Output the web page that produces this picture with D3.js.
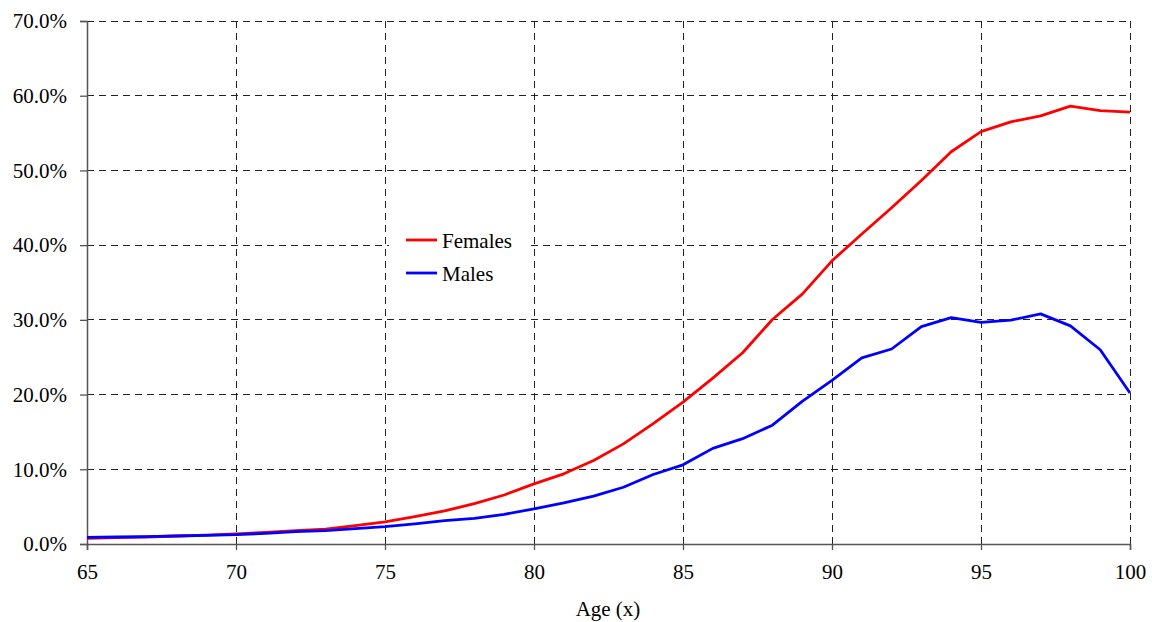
<!DOCTYPE html>
<html>
<head>
<meta charset="utf-8">
<title>Age chart</title>
<script src="https://cdn.jsdelivr.net/npm/d3@7"></script>
<style>
  body { margin: 0; background: #fff; }
  svg text { font-family: "Liberation Serif", "Times New Roman", serif; fill: #000; }
</style>
</head>
<body>
<svg id="chart" width="1152" height="622"></svg>
<script>
// ages 65..100
var ages = d3.range(65, 101);
var females = [0.76, 0.85, 0.94, 1.07, 1.2, 1.34, 1.56, 1.79, 2.0, 2.46, 2.95, 3.66, 4.42, 5.4, 6.56,
  8.05, 9.39, 11.18, 13.4, 16.1, 19.0, 22.2, 25.6, 30.05, 33.45, 37.9, 41.5, 45.0, 48.66, 52.5,
  55.2, 56.5, 57.3, 58.6, 58.0, 57.8];
var males = [0.89, 0.94, 0.98, 1.07, 1.16, 1.25, 1.43, 1.65, 1.79, 2.05, 2.32, 2.68, 3.12, 3.44, 3.97,
  4.7, 5.5, 6.4, 7.6, 9.3, 10.6, 12.8, 14.1, 15.9, 19.1, 21.9, 24.9, 26.1, 29.1, 30.3,
  29.65, 29.96, 30.8, 29.2, 26.0, 20.2];
var xTicks = [65, 70, 75, 80, 85, 90, 95, 100];
var yTicks = [0, 10, 20, 30, 40, 50, 60, 70];
var series = [
  {name: "Females", values: females, color: "#ff0000"},
  {name: "Males", values: males, color: "#0000ff"}
];

var svg = d3.select("#chart");
var plotL = 87, plotR = 1130, plotT = 21, plotB = 544;

var x = d3.scaleLinear().domain([65, 100]).range([plotL, plotR]);
var y = d3.scaleLinear().domain([0, 70]).range([plotB, plotT]);

// grid
var grid = svg.append("g").attr("shape-rendering", "crispEdges");
grid.selectAll("line.h").data(yTicks.slice(1)).enter().append("line")
  .attr("x1", plotL).attr("x2", plotR)
  .attr("y1", d => y(d)).attr("y2", d => y(d))
  .attr("stroke", "#222").attr("stroke-width", 1).attr("stroke-dasharray", "7,5");
grid.selectAll("line.v").data(xTicks.slice(1)).enter().append("line")
  .attr("x1", d => x(d)).attr("x2", d => x(d))
  .attr("y1", plotB).attr("y2", plotT)
  .attr("stroke", "#222").attr("stroke-width", 1).attr("stroke-dasharray", "7,5");

// axes
var xAxis = svg.append("g").attr("transform", "translate(0," + plotB + ")")
  .call(d3.axisBottom(x).tickValues(xTicks).tickSize(6).tickPadding(14).tickFormat(d3.format("d")));
var yAxis = svg.append("g").attr("transform", "translate(" + plotL + ",0)")
  .call(d3.axisLeft(y).tickValues(yTicks).tickSize(7).tickPadding(13).tickFormat(d => d.toFixed(1) + "%"));

[xAxis, yAxis].forEach(function (a) {
  a.attr("font-family", null);
  a.select(".domain").attr("stroke", "#555").attr("stroke-width", 1.5);
  a.selectAll(".tick line").attr("stroke", "#555").attr("stroke-width", 1.3);
  a.selectAll(".tick text").style("font-family", "'Liberation Serif', serif").style("font-size", "21px").attr("fill", "#000");
});
xAxis.selectAll(".tick text").attr("dy", "0.71em");

svg.append("text")
  .attr("x", 608).attr("y", 616)
  .attr("text-anchor", "middle")
  .style("font-size", "21px")
  .text("Age (x)");

// legend background (hides the grid behind it)
svg.append("rect")
  .attr("x", 389).attr("y", 222).attr("width", 142).attr("height", 72)
  .attr("fill", "#fff");

// lines
var line = d3.line()
  .x((d, i) => x(ages[i]))
  .y(d => y(d));

svg.selectAll("path.series").data(series).enter().append("path")
  .attr("class", "series")
  .attr("d", d => line(d.values))
  .attr("fill", "none")
  .attr("stroke", d => d.color)
  .attr("stroke-width", 2.8)
  .attr("stroke-linejoin", "round");

// legend
var legend = svg.append("g").attr("transform", "translate(406,240)");
var item = legend.selectAll("g").data(series).enter().append("g")
  .attr("transform", (d, i) => "translate(0," + (i * 33) + ")");
item.append("line")
  .attr("x1", 0).attr("x2", 31).attr("y1", 0).attr("y2", 0)
  .attr("stroke", d => d.color).attr("stroke-width", 2.8);
item.append("text")
  .attr("x", 36).attr("y", 8)
  .style("font-size", "21px")
  .text(d => d.name);
</script>
</body>
</html>
